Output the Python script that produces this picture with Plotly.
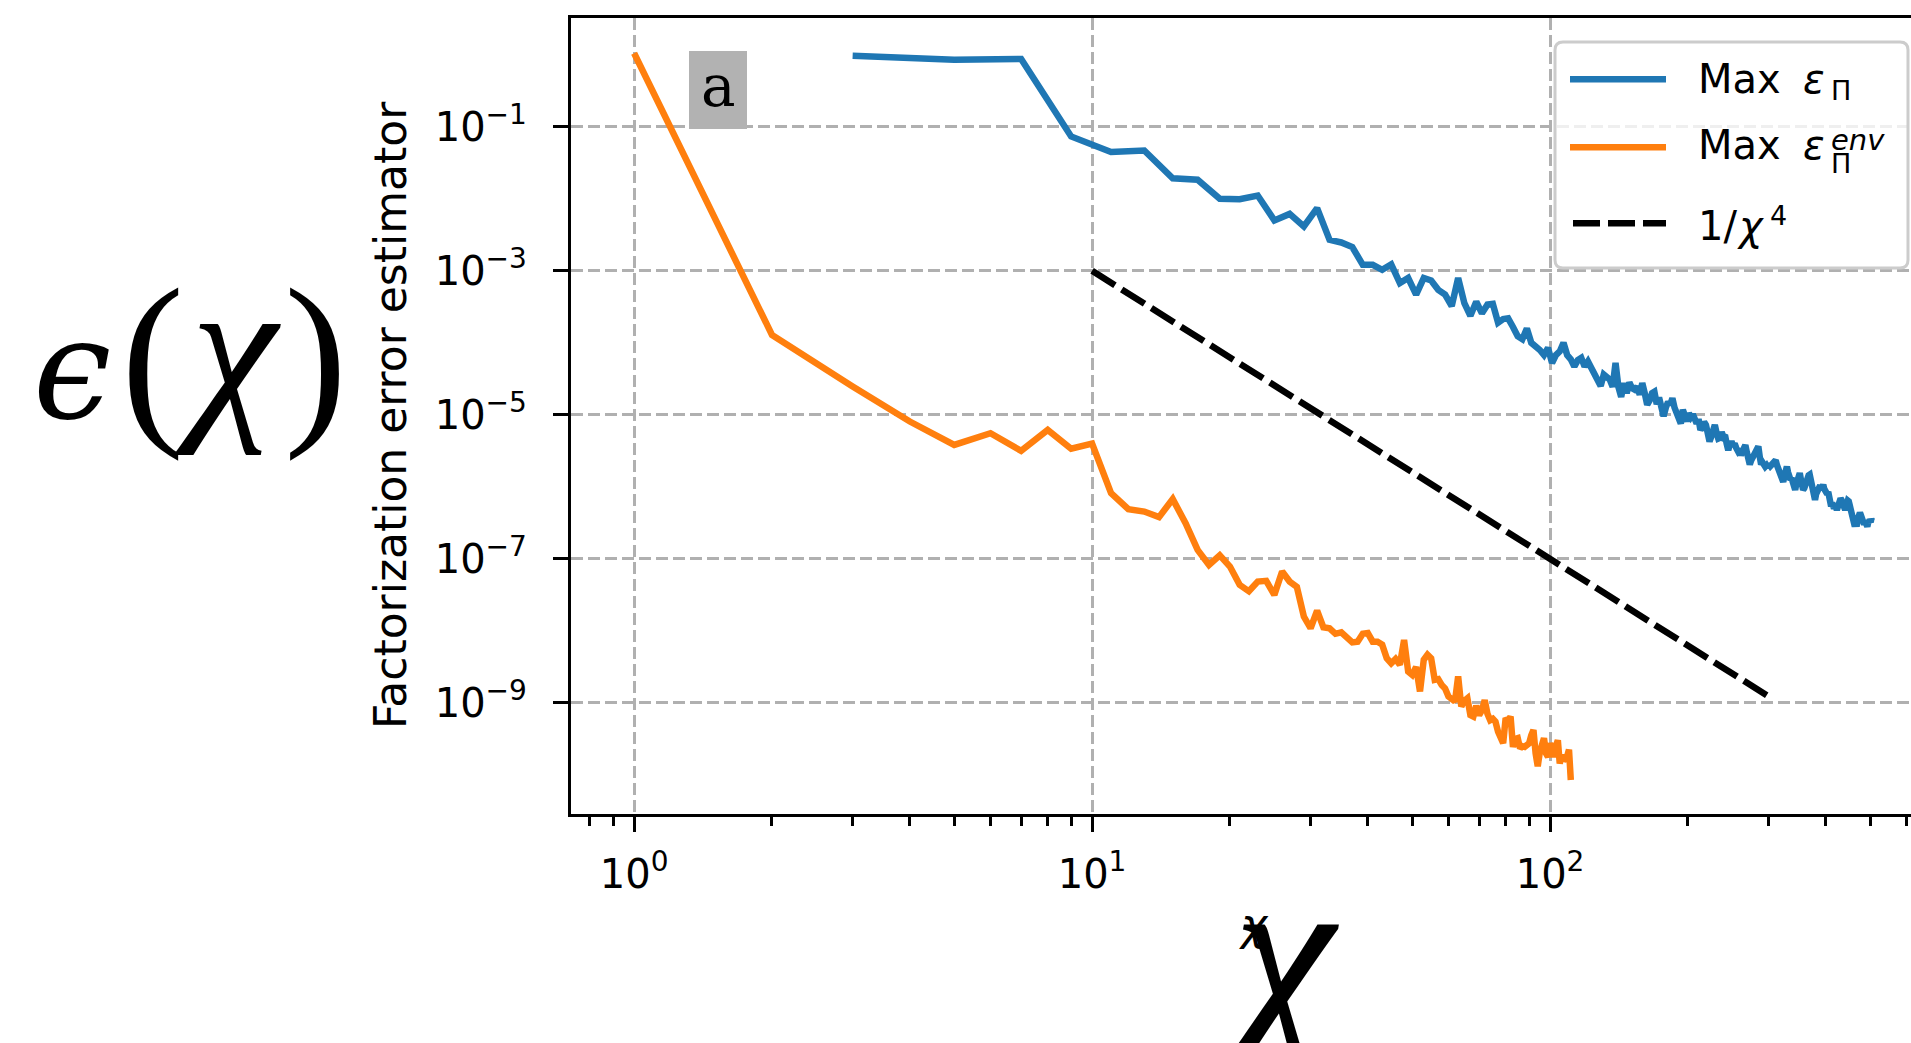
import numpy as np
import plotly.graph_objects as go

# ---------------------------------------------------------------- data
# bond dimension chi for the environment-based estimator (every integer)
chi_env = list(range(1, 112))
# log10 of Max eps_Pi^env
env_log10 = [
    0.02, -3.89, -4.607, -5.093, -5.417, -5.255, -5.50, -5.21, -5.47, -5.40,      # 1-10
    -6.088, -6.31, -6.343, -6.42, -6.17, -6.504, -6.875, -7.083, -6.95, -7.107,   # 11-20
    -7.36, -7.45, -7.315, -7.305, -7.50, -7.176, -7.315, -7.39, -7.80, -7.963,    # 21-30
    -7.718, -7.95, -7.963, -8.04, -8.02, -8.09, -8.16, -8.15, -8.04, -8.03,       # 31-40
    -8.15, -8.15, -8.19, -8.38, -8.45, -8.39, -8.47, -8.125, -8.565, -8.61,       # 41-50
    -8.50, -8.84, -8.40, -8.33, -8.38, -8.68, -8.67, -8.75, -8.80, -8.91,         # 51-60
    -8.96, -8.98, -8.63, -9.05, -8.97, -8.935, -9.17, -9.19, -9.04, -9.17,        # 61-70
    -9.10, -8.96, -9.15, -9.24, -9.22, -9.26, -9.40, -9.51, -9.56, -9.21,         # 71-80
    -9.25, -9.19, -9.61, -9.50, -9.49, -9.63, -9.60, -9.61, -9.58, -9.56,         # 81-90
    -9.45, -9.375, -9.70, -9.88, -9.68, -9.55, -9.49, -9.70, -9.75, -9.56,        # 91-100
    -9.70, -9.75, -9.60, -9.52, -9.84, -9.72, -9.80, -9.78, -9.74, -9.65,         # 101-110
    -10.07,                                                                       # 111
]

# bond dimension chi for the plain estimator (odd values 3..507)
chi_pi = list(range(3, 508, 2))
# log10 of Max eps_Pi
pi_log10 = [
    -0.014, -0.069, -0.060, -1.135, -1.350, -1.330, -1.715, -1.736, -2.000, -2.006,  # 3-21
    -1.955, -2.300, -2.210, -2.385, -2.130, -2.570, -2.607, -2.670, -2.917, -2.917,  # 23-41
    -2.986, -2.910, -3.170, -3.100, -3.330, -3.100, -3.135, -3.264, -3.330, -3.490,  # 43-61
    -3.100, -3.450, -3.625, -3.430, -3.590, -3.470, -3.460, -3.720, -3.670, -3.660,  # 63-81
    -3.780, -3.910, -3.950, -3.800, -4.000, -4.040, -4.100, -4.170, -4.070, -4.280,  # 83-101
    -4.170, -4.120, -4.000, -4.170, -4.230, -4.330, -4.240, -4.210, -4.330, -4.260,  # 103-121
    -4.340, -4.410, -4.480, -4.600, -4.440, -4.480, -4.510, -4.610, -4.280, -4.610,  # 123-141
    -4.750, -4.560, -4.700, -4.550, -4.630, -4.650, -4.610, -4.720, -4.560, -4.700,  # 143-161
    -4.860, -4.800, -4.700, -4.680,                                                  # 163-169
    -4.85, -4.76, -4.92, -5.02, -4.90, -4.82, -4.86, -4.77, -4.90, -4.98,            # 171-189
    -5.08, -5.12, -4.93, -5.02, -5.09, -4.98, -5.03, -4.99, -5.08, -5.12,            # 191-209
    -5.06, -5.21, -5.17, -5.10, -5.14, -5.22, -5.37, -5.30, -5.18, -5.14,            # 211-229
    -5.25, -5.33, -5.32, -5.24, -5.30, -5.28, -5.40, -5.49, -5.41, -5.37,            # 231-249
    -5.43, -5.40, -5.46, -5.50, -5.47, -5.56, -5.51, -5.45, -5.42, -5.52,            # 251-269
    -5.60, -5.69, -5.63, -5.58, -5.55, -5.50, -5.47, -5.44, -5.58, -5.69,            # 271-289
    -5.66, -5.70, -5.72, -5.70, -5.73, -5.68, -5.71, -5.69, -5.66, -5.64,            # 291-309
    -5.63, -5.70, -5.74, -5.76, -5.82, -5.88, -5.93, -5.85, -5.77, -5.72,            # 311-329
    -5.80, -5.86, -5.90, -5.88, -5.95, -6.00, -6.04, -5.96, -5.88, -5.84,            # 331-349
    -5.81, -5.90, -5.98, -6.04, -6.02, -5.95, -5.90, -5.86, -5.84, -5.83,            # 351-369
    -5.92, -6.02, -6.10, -6.16, -6.18, -6.10, -6.05, -6.02, -6.00, -5.98,            # 371-389
    -6.04, -6.00, -5.97, -6.03, -6.08, -6.06, -6.10, -6.07, -6.14, -6.20,            # 391-409
    -6.27, -6.22, -6.26, -6.30, -6.24, -6.28, -6.32, -6.28, -6.22, -6.19,            # 411-429
    -6.16, -6.18, -6.24, -6.30, -6.26, -6.32, -6.28, -6.22, -6.19, -6.20,            # 431-449
    -6.25, -6.31, -6.38, -6.44, -6.48, -6.52, -6.55, -6.50, -6.55, -6.46,            # 451-469
    -6.40, -6.38, -6.36, -6.39, -6.42, -6.46, -6.50, -6.52, -6.47, -6.50,            # 471-489
    -6.53, -6.55, -6.50, -6.47, -6.46, -6.49, -6.45, -6.47, -6.48,                   # 491-507
]

# 1/chi^4 guide line, end points
ref_chi = [10, 300]
ref_val = [1e-3, 1.235e-9]

x_tick_vals = [1, 10, 100]
x_tick_text = ["10<sup>0</sup>", "10<sup>1</sup>", "10<sup>2</sup>"]
x_minor_vals = [0.8, 0.9, 2, 3, 4, 5, 6, 7, 8, 9, 20, 30, 40, 50, 60, 70, 80, 90,
                200, 300, 400, 500, 600, 700, 800, 900]
y_tick_vals = [1e-1, 1e-3, 1e-5, 1e-7, 1e-9]
y_tick_text = ["10<sup>\u22121</sup>", "10<sup>\u22123</sup>", "10<sup>\u22125</sup>",
               "10<sup>\u22127</sup>", "10<sup>\u22129</sup>"]

# ---------------------------------------------------------------- layout geometry (px)
W, H = 1911, 1043
L, R, T, B = 571, 1911, 18, 814

BLUE = "#1f77b4"
ORANGE = "#ff7f0e"
GRID = "#b0b0b0"
SANS = "DejaVu Sans"
SERIF = "Liberation Serif"
LW = 6.5
DASH = "27px,8px"


def fx(px):
    return (px - L) / (R - L)


def fy(py):
    return (B - py) / (B - T)


annotations = []


def label(text, x, baseline, size, family=SANS, anchor="left", asc=0.928, desc=0.236,
          angle=0):
    """Place text so that its baseline sits at the given pixel row."""
    mid = baseline - (asc - desc) / 2 * size
    annotations.append(dict(
        text=text, x=fx(x), y=fy(mid), xref="paper", yref="paper",
        xanchor=anchor, yanchor="middle", showarrow=False, textangle=angle,
        borderpad=0, borderwidth=0,
        font=dict(family=family, size=size, color="black"),
    ))


fig = go.Figure()

fig.add_trace(go.Scatter(
    x=chi_pi, y=10 ** np.array(pi_log10), mode="lines", name="Max \u03b5\u03a0",
    line=dict(color=BLUE, width=LW), showlegend=False, hoverinfo="skip"))
fig.add_trace(go.Scatter(
    x=chi_env, y=10 ** np.array(env_log10), mode="lines", name="Max \u03b5\u03a0 env",
    line=dict(color=ORANGE, width=LW), showlegend=False, hoverinfo="skip"))
fig.add_trace(go.Scatter(
    x=ref_chi, y=ref_val, mode="lines", name="1/\u03c7^4",
    line=dict(color="black", width=LW, dash=DASH), showlegend=False,
    hoverinfo="skip"))

shapes = []

# panel tag box
shapes.append(dict(type="rect", xref="paper", yref="paper",
                   x0=fx(689), x1=fx(747), y0=fy(129), y1=fy(51),
                   fillcolor="#b2b2b2", line=dict(width=0), layer="above"))
label("a", 718, 106, 58, family="DejaVu Serif", anchor="center")

# legend frame with rounded corners
lx0, lx1, ly0, ly1, rad = 1555, 1908, 42, 268, 8


def P(x, y):
    return f"{fx(x):.5f},{fy(y):.5f}"


legend_path = (
    f"M {P(lx0 + rad, ly0)} L {P(lx1 - rad, ly0)} Q {P(lx1, ly0)} {P(lx1, ly0 + rad)} "
    f"L {P(lx1, ly1 - rad)} Q {P(lx1, ly1)} {P(lx1 - rad, ly1)} "
    f"L {P(lx0 + rad, ly1)} Q {P(lx0, ly1)} {P(lx0, ly1 - rad)} "
    f"L {P(lx0, ly0 + rad)} Q {P(lx0, ly0)} {P(lx0 + rad, ly0)} Z"
)
shapes.append(dict(type="path", xref="paper", yref="paper", path=legend_path,
                   fillcolor="rgba(255,255,255,0.8)",
                   line=dict(color="#cccccc", width=3), layer="above"))

# legend keys
for y, col, dash, x0 in [(79.3, BLUE, "solid", 1570), (147.3, ORANGE, "solid", 1570),
                         (223.3, "black", DASH, 1573)]:
    shapes.append(dict(type="line", xref="paper", yref="paper",
                       x0=fx(x0), x1=fx(1666), y0=fy(y), y1=fy(y),
                       line=dict(color=col, width=LW, dash=dash), layer="above"))

# legend texts
label("Max", 1698, 92.7, 40)
label("<i>\u03b5</i>", 1803, 92.7, 40)
label("\u03a0", 1831, 100, 27)
label("Max", 1698, 159.3, 40)
label("<i>\u03b5</i>", 1803, 159.3, 40)
label("\u03a0", 1831, 173.3, 27)
label("<i>env</i>", 1831, 150, 29)
label("1/", 1698, 240, 40)
label("<i>\u03c7</i>", 1737, 240, 40)
label("4", 1770, 225, 27)

# axis titles
annotations.append(dict(
    text="Factorization error estimator", x=fx(390), y=fy(415), xref="paper",
    yref="paper", xanchor="center", yanchor="middle", showarrow=False, textangle=-90,
    borderpad=0, borderwidth=0, font=dict(family=SANS, size=44, color="black")))
label("<i>\u03c7</i>", 1254, 940, 44, anchor="center")

# large hand-set formula on the left
label("<i>\u03f5</i>", 72, 418, 140, family="DejaVu Serif", anchor="center")
label("(", 152, 420, 190, family=SERIF, anchor="center", asc=0.891, desc=0.216)
label("<i>\u03c7</i>", 228, 413, 195, family=SERIF, anchor="center", asc=0.891, desc=0.216)
label(")", 315, 420, 190, family=SERIF, anchor="center", asc=0.891, desc=0.216)

# large chi under the axis
label("<i>\u03c7</i>", 1276, 1031, 230, family=SERIF, anchor="center", asc=0.891,
      desc=0.216)

axis_common = dict(
    type="log", showline=True, linecolor="black", linewidth=3.2,
    ticks="outside", ticklen=15, tickwidth=3, tickcolor="black",
    showgrid=True, gridcolor=GRID, gridwidth=3, griddash="12px,5px",
    zeroline=False, automargin=False,
    tickfont=dict(family=SANS, size=40, color="black"),
)

fig.update_layout(
    width=W, height=H,
    margin=dict(l=L, r=W - R, t=T, b=H - B, pad=0),
    paper_bgcolor="white", plot_bgcolor="white",
    showlegend=False,
    xaxis=dict(
        axis_common, range=[np.log10(0.728), 2.7882], mirror=True,
        tickmode="array", tickvals=x_tick_vals, ticktext=x_tick_text,
        ticklabelstandoff=8,
        minor=dict(tickmode="array", tickvals=x_minor_vals, ticks="outside",
                   ticklen=9, tickwidth=2.5, tickcolor="black", showgrid=False),
    ),
    yaxis=dict(
        axis_common, range=[-10.542, 0.5097], mirror=False,
        tickmode="array", tickvals=y_tick_vals, ticktext=y_tick_text,
        ticklabelstandoff=18,
    ),
    shapes=shapes,
    annotations=annotations,
)

fig.write_html("out.html", config={"displayModeBar": False})
